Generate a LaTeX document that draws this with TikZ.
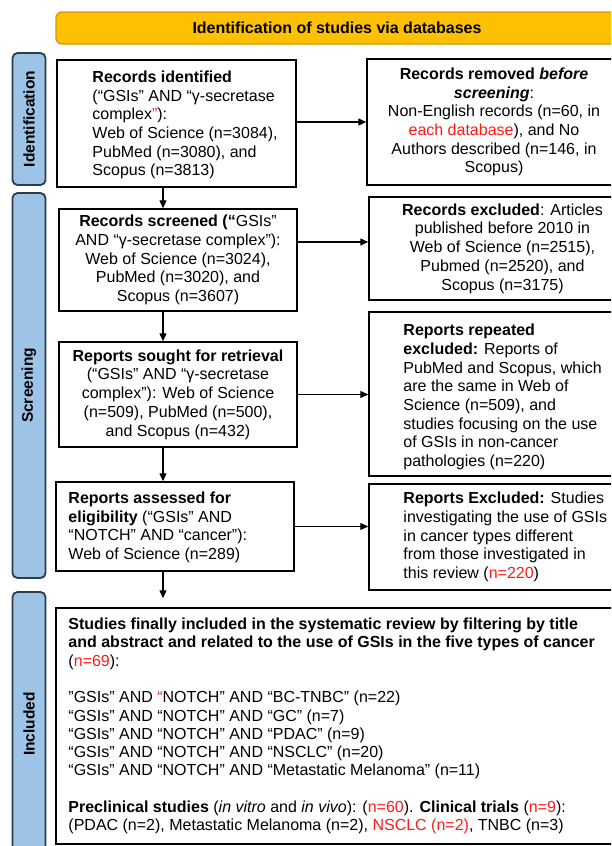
\documentclass[tikz,border=0pt]{standalone}
\usepackage{fontspec}
\setmainfont{Liberation Sans}
\usetikzlibrary{arrows.meta}
\definecolor{titlefill}{HTML}{FFC000}
\definecolor{titleedge}{HTML}{D49B00}
\definecolor{labfill}{HTML}{9DC3E6}
\definecolor{labedge}{HTML}{2E3B4A}
\definecolor{hlred}{HTML}{FF1A1A}
\newcommand{\redtxt}[1]{{\color{hlred}#1}}
\begin{document}
\begin{tikzpicture}[x=1pt,y=-1pt,
  stagebox/.style={draw=black, line width=1.5pt, fill=white, inner sep=0pt},
  boxtext/.style={align=center, font=\fontsize{16}{18.7}\selectfont},
  lefttext/.style={align=left, inner sep=0pt, font=\fontsize{16}{18.7}\selectfont},
  phase/.style={draw=labedge, line width=1.8pt, fill=labfill, rounded corners=5pt, rotate=90, inner sep=0pt, minimum height=33pt, font=\bfseries\fontsize{15.5}{18}\selectfont},
  flow/.style={line width=1.3pt, -{Triangle[length=8pt,width=7pt]}},
]
\clip (0,0) rectangle (611,846);
\fill[white] (0,0) rectangle (611,846);

% title bar
\node[draw=titleedge, line width=1.3pt, fill=titlefill, rounded corners=6pt, minimum width=562pt, minimum height=32pt, inner sep=0pt, font=\bfseries\fontsize{16}{19}\selectfont] (title) at (337,28) {Identification of studies via databases};

% phase labels
\node[phase, minimum width=132pt] (lid) at (29,119) {Identification};
\node[phase, minimum width=385pt] (lsc) at (29,385.5) {Screening};
\node[phase, minimum width=264pt] (lin) at (29,724) {Included};

% left column
\node[stagebox, minimum width=239pt, minimum height=127pt] (b1) at (176.5,123.5) {};
\node[lefttext, anchor=west] (b1t) at ([xshift=36pt,yshift=-1.5pt]b1.west) {\textbf{Records identified}\\
(“GSIs” AND “γ-secretase\\
complex\redtxt{”}):\\
Web of Science (n=3084),\\
PubMed (n=3080), and\\
Scopus (n=3813)};

\node[stagebox, boxtext, minimum width=238pt, minimum height=102pt] (b2) at (178,260) {\textbf{Records screened (“}GSIs”\\
AND “γ-secretase complex”):\\
Web of Science (n=3024),\\
PubMed (n=3020), and\\
Scopus (n=3607)};

\node[stagebox, boxtext, minimum width=238pt, minimum height=105pt] (b3) at (178,394.5) {\textbf{Reports sought for retrieval}\\
(“GSIs” AND “γ-secretase\\
complex”): Web of Science\\
(n=509), PubMed (n=500),\\
and Scopus (n=432)};

\node[stagebox, minimum width=238pt, minimum height=89pt] (b4) at (175,526.5) {};
\node[lefttext, anchor=west] (b4t) at ([xshift=13pt,yshift=-1pt]b4.west) {\textbf{Reports assessed for}\\
\textbf{eligibility} (“GSIs” AND\\
“NOTCH” AND “cancer”):\\
Web of Science (n=289)};

% right column
\node[stagebox, boxtext, minimum width=254pt, minimum height=126pt] (r1) at (494,122) {\textbf{Records removed \textit{before}}\\
\textbf{\textit{screening}}:\\
Non-English records (n=60, in\\
\redtxt{each database}), and No\\
Authors described (n=146, in\\
Scopus)};

\node[stagebox, boxtext, minimum width=267pt, minimum height=103pt] (r2) at (502.5,248.5) {\textbf{Records excluded}: Articles\\
published before 2010 in\\
Web of Science (n=2515),\\
Pubmed (n=2520), and\\
Scopus (n=3175)};

\node[stagebox, minimum width=267pt, minimum height=164pt] (r3) at (502.5,394) {};
\node[lefttext, anchor=west] (r3t) at ([xshift=35pt,yshift=-3pt]r3.west) {\textbf{Reports repeated}\\
\textbf{excluded:} Reports of\\
PubMed and Scopus, which\\
are the same in Web of\\
Science (n=509), and\\
studies focusing on the use\\
of GSIs in non-cancer\\
pathologies (n=220)};

\node[stagebox, minimum width=267pt, minimum height=106pt] (r4) at (502.5,537) {};
\node[lefttext, anchor=west] (r4t) at ([xshift=35pt]r4.west) {\textbf{Reports Excluded:} Studies\\
investigating the use of GSIs\\
in cancer types different\\
from those investigated in\\
this review (\redtxt{n=220})};

% final box
\node[stagebox, minimum width=584pt, minimum height=236pt] (fin) at (348,726) {};
\node[lefttext, anchor=west, font=\fontsize{16}{18.3}\selectfont] (fint) at ([xshift=13pt]fin.west) {\textbf{Studies finally included in the systematic review by filtering by title}\\
\textbf{and abstract and related to the use of GSIs in the five types of cancer}\\
(\redtxt{n=69}):\\[18.3pt]
”GSIs” AND \redtxt{“}NOTCH” AND “BC-TNBC” (n=22)\\
“GSIs” AND “NOTCH” AND “GC” (n=7)\\
“GSIs” AND “NOTCH” AND “PDAC” (n=9)\\
“GSIs” AND “NOTCH” AND “NSCLC” (n=20)\\
“GSIs” AND “NOTCH” AND “Metastatic Melanoma” (n=11)\\[18.3pt]
\textbf{Preclinical studies} (\textit{in vitro} and \textit{in vivo}): (\redtxt{n=60}). \textbf{Clinical trials} (\redtxt{n=9}):\\
(PDAC (n=2), Metastatic Melanoma (n=2), \redtxt{NSCLC (n=2)}, TNBC (n=3)};

% connectors
\coordinate (vx) at (163,0);
\coordinate (a2) at (0,242);
\draw[flow] (b1.south -| vx) -- (b2.north -| vx);
\draw[flow] (b2.south -| vx) -- (b3.north -| vx);
\draw[flow] (b3.south -| vx) -- (b4.north -| vx);
\draw[flow, shorten >=9pt] (b4.south -| vx) -- (fin.north -| vx);
\draw[flow] (b1.east |- r1.west) -- (r1.west);
\draw[flow] (b2.east |- a2) -- (r2.west |- a2);
\draw[flow] (b3.east) -- (b3.east -| r3.west);
\draw[flow] (b4.east) -- (b4.east -| r4.west);
\end{tikzpicture}
\end{document}
